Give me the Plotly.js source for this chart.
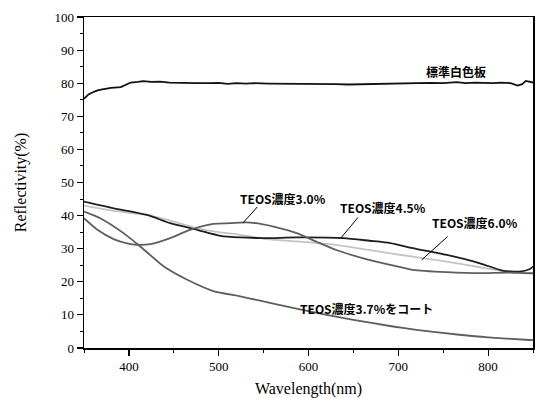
<!DOCTYPE html>
<html>
<head>
<meta charset="utf-8">
<script src="https://cdn.plot.ly/plotly-3.0.1.min.js"></script>
<style>html,body{margin:0;padding:0;background:#fff;}#chart{width:536px;height:398px;}</style>
</head>
<body>
<div id="chart"></div>
<script>
// ---- data ----
const wlWhite = [350,355,361,366,372,380,391,398,402,410,416,425,435,445,455,465,475,490,500,510,520,530,540,555,570,585,600,615,630,645,660,675,690,700,710,720,735,750,765,775,785,795,805,815,825,833,838,842,846,850];
const valWhite = [75.3,76.6,77.4,77.9,78.2,78.6,78.8,79.6,80.2,80.4,80.6,80.4,80.5,80.2,80.1,79.9,80.0,80.0,80.1,79.8,80.0,79.9,80.0,79.9,79.9,79.8,79.8,79.8,79.7,79.6,79.7,79.9,79.9,80.0,80.1,80.0,80.1,80.0,80.3,80.0,80.2,80.1,80.0,80.2,80.0,79.3,79.7,80.7,80.4,80.2];

const wl30 = [350,365,383,398,409,424,446,468,494,513,524,535,561,587,609,631,661,691,716,754,791,820,850];
const val30 = [39.2,35.7,32.9,31.6,31.2,31.4,33.2,35.7,37.5,37.7,37.9,37.9,36.7,34.7,32.1,29.6,27.1,25.1,23.6,22.9,22.6,22.8,22.6];

const wl37 = [350,368,394,413,439,465,494,524,546,580,620,650,694,720,768,800,842,850];
const val37 = [41.2,39.2,34.7,30.6,24.6,20.6,17.2,15.6,14.3,12.3,10.0,8.5,6.5,5.5,4.0,3.2,2.5,2.4];

const wl45 = [350,383,420,446,476,502,524,550,587,639,668,691,716,754,791,816,835,846,850];
const val45 = [44.2,42.2,40.2,37.7,35.7,33.9,33.4,33.2,33.4,33.2,32.4,31.7,30.2,28.1,25.6,23.4,23.1,23.8,24.6];

const wl60 = [350,383,420,450,476,502,524,550,587,624,661,691,716,754,791,820,850];
const val60 = [43.0,41.4,40.2,38.2,36.2,34.9,34.2,33.0,32.2,31.4,29.9,28.6,27.6,26.1,24.4,23.1,22.4];

const xTicks = [400,500,600,700,800];
const yTicks = [0,10,20,30,40,50,60,70,80,90,100];

// label texts with their positions (x: wavelength, y: %), and leader lines
const labelTexts = ['標準白色板','TEOS濃度3.0%','TEOS濃度4.5%','TEOS濃度6.0%','TEOS濃度3.7%をコート'];
const labelX = [764,572,683,785,665];
const labelY = [83.6,45.3,42.3,37.8,11.8];
const leaderFrom = [null,[543,42.6],[655,39.4],[755,33.7],null];
const leaderTo = [null,[527,37.8],[636,33.2],[726,26.6],null];

// ---- chart ----
function tr(x, y, color, w) {
  return {x: x, y: y, type: 'scatter', mode: 'lines', line: {color: color, width: w, shape: 'spline', smoothing: 0.6}, hoverinfo: 'skip', showlegend: false};
}
const traces = [
  {x: wlWhite, y: valWhite, type: 'scatter', mode: 'lines', line: {color: '#111111', width: 1.8}, showlegend: false},
  tr(wl60, val60, '#c4c4c4', 1.8),
  tr(wl45, val45, '#1e1e1e', 1.8),
  tr(wl30, val30, '#5e5e5e', 1.8),
  tr(wl37, val37, '#5e5e5e', 1.8)
];

const annotations = labelTexts.map((t, i) => ({
  x: labelX[i], y: labelY[i], xref: 'x', yref: 'y', text: '<b>' + t + '</b>', showarrow: false,
  font: {family: 'Noto Sans CJK JP, Noto Sans, sans-serif', size: 12, color: '#000'}
}));
const shapes = [];
for (let i = 0; i < labelTexts.length; i++) {
  if (leaderFrom[i]) {
    shapes.push({type: 'line', xref: 'x', yref: 'y', x0: leaderFrom[i][0], y0: leaderFrom[i][1], x1: leaderTo[i][0], y1: leaderTo[i][1], line: {color: '#000', width: 1}});
  }
}

const serif = 'Liberation Serif, Times New Roman, serif';
const tickFont = {family: serif, size: 13, color: '#000'};
const layout = {
  width: 536, height: 398,
  font: {family: serif, size: 13, color: '#000'},
  margin: {l: 83.5, r: 2.5, t: 17, b: 50},
  paper_bgcolor: '#fff', plot_bgcolor: '#fff',
  xaxis: {
    range: [350, 850], tickvals: xTicks, ticks: 'outside', ticklen: 6, tickwidth: 1.2, tickcolor: '#000',
    showline: true, linecolor: '#000', linewidth: 1.5, mirror: true, showgrid: false, zeroline: false,
    tickfont: tickFont,
    minor: {dtick: 50, ticks: 'outside', ticklen: 3, tickwidth: 1, tickcolor: '#000', showgrid: false},
    title: {text: 'Wavelength(nm)', font: {family: serif, size: 16, color: '#000'}, standoff: 15}
  },
  yaxis: {
    range: [0, 100], tickvals: yTicks, ticks: 'outside', ticklen: 6, tickwidth: 1.2, tickcolor: '#000',
    showline: true, linecolor: '#000', linewidth: 1.5, mirror: true, showgrid: false, zeroline: false,
    tickfont: tickFont,
    minor: {dtick: 5, ticks: 'outside', ticklen: 3, tickwidth: 1, tickcolor: '#000', showgrid: false},
    title: {text: 'Reflectivity(%)', font: {family: serif, size: 16, color: '#000'}, standoff: 24}
  },
  annotations: annotations,
  shapes: shapes
};
Plotly.newPlot('chart', traces, layout, {staticPlot: true, displayModeBar: false});
</script>
</body>
</html>
